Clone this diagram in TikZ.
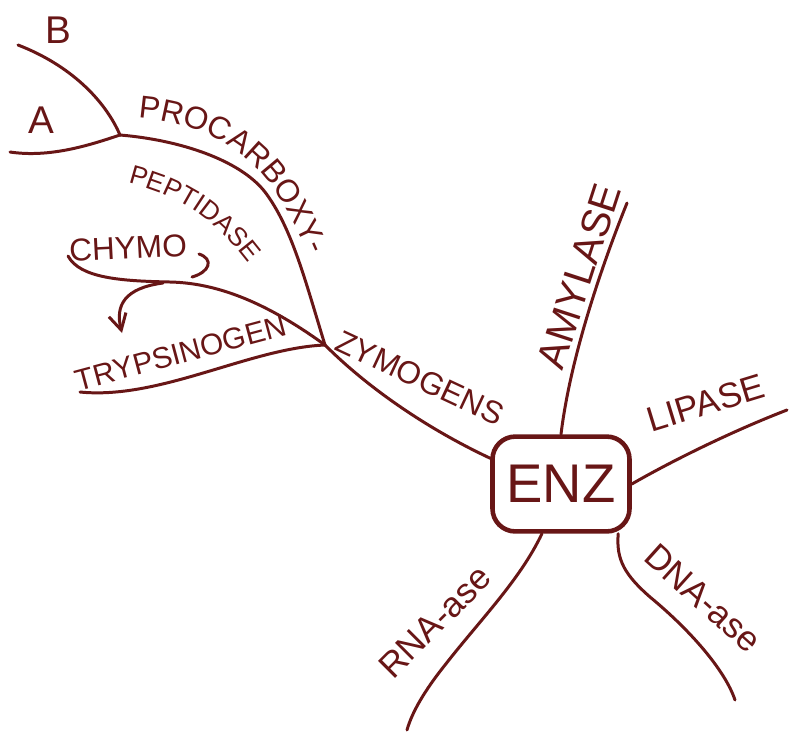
\documentclass[tikz,border=0pt]{standalone}
\usepackage{fontspec}
\setmainfont{Liberation Sans}
\usetikzlibrary{arrows.meta,decorations.text}
\definecolor{ink}{RGB}{104,22,22}
\newcommand{\handsz}[1]{\fontsize{#1}{#1}\selectfont}

\begin{document}
\begin{tikzpicture}[x=0.02cm,y=-0.02cm,line cap=round,line join=round,
  branch/.style={draw=ink,line width=1.7pt},
  lbl/.style={text=ink,inner sep=0pt},
  enzbox/.style={draw=ink,line width=2.6pt,rounded corners=13pt,
    minimum width=78pt,minimum height=54pt,text=ink,font=\handsz{31}}]
\fill[white] (0,0) rectangle (794,738);
\useasboundingbox (0,0) rectangle (794,738);

% centre
\node[enzbox] (enz) at (561,484) {ENZ};

% junctions and free ends
\coordinate (zj) at (325,345);
\coordinate (pj) at (120,135);
\coordinate (bend) at (18,45);
\coordinate (aend) at (10,152);
\coordinate (tend) at (80,392);
\coordinate (cend) at (68,256);
\coordinate (hk) at (163,283);
\coordinate (hkend) at (122,333);
\coordinate (amyend) at (627,203);
\coordinate (lipend) at (787,410);
\coordinate (dnaend) at (735,700);
\coordinate (rnaend) at (407,730);

% enzyme branches
\draw[branch] (enz.north) .. controls (570,360) and (600,270) .. (amyend);
\draw[branch] (enz.east) .. controls (670,462) and (730,432) .. (lipend);
\draw[branch] (enz.-41) .. controls (616,560) and (625,575) .. (650,597)
  .. controls (690,630) and (725,670) .. (dnaend);
\draw[branch] (enz.-111) .. controls (520,580) and (480,620) .. (445,665)
  .. controls (425,690) and (412,712) .. (rnaend);
\draw[branch] (enz.160) .. controls (430,430) and (370,390) .. (zj);

% zymogens
\draw[branch] (zj) .. controls (305,280) and (292,228) .. (265,192)
  .. controls (240,160) and (180,140) .. (pj);
\draw[branch] (pj) .. controls (105,100) and (70,65) .. (bend);
\draw[branch] (pj) .. controls (90,145) and (50,158) .. (aend);
\draw[branch] (zj) .. controls (250,348) and (160,400) .. (tend);
\draw[branch] (zj) .. controls (270,305) and (220,283) .. (170,282)
  .. controls (120,281) and (80,278) .. (cend);
\draw[branch] (199,254) .. controls (214,259) and (210,272) .. (192,277);
\draw[branch,-{Straight Barb[length=9pt,width=10pt]}] (hk)
  .. controls (125,288) and (115,305) .. (hkend);

% labels
\node[lbl,font=\handsz{22}] (b) at (58,30) {B};
\node[lbl,font=\handsz{22}] (a) at (41,120) {A};
\path[decorate,decoration={text along path,text color=ink,
  text={|\handsz{18}|PROCARBOXY-}}]
  (138,118) .. controls (195,122) and (245,145) .. (278,195)
  .. controls (295,222) and (308,250) .. (320,282);
\path[decorate,decoration={text along path,text color=ink,
  text={|\handsz{15}|PEPTIDASE}}]
  (128,183) .. controls (175,195) and (215,215) .. (255,272);
\node[lbl,font=\handsz{18},rotate=3] (chymo) at (128,248) {CHYMO};
\node[lbl,font=\handsz{17},rotate=15] (tryp) at (181,353) {TRYPSINOGEN};
\node[lbl,font=\handsz{18},rotate=-25] (zym) at (420,378) {ZYMOGENS};
\node[lbl,font=\handsz{23},rotate=72] (amy) at (579,276) {AMYLASE};
\node[lbl,font=\handsz{20},rotate=17] (lip) at (706,403) {LIPASE};
\node[lbl,font=\handsz{20},rotate=-42] (dna) at (703,598) {DNA-ase};
\node[lbl,font=\handsz{20},rotate=45] (rna) at (435,622) {RNA-ase};
\end{tikzpicture}
\end{document}
